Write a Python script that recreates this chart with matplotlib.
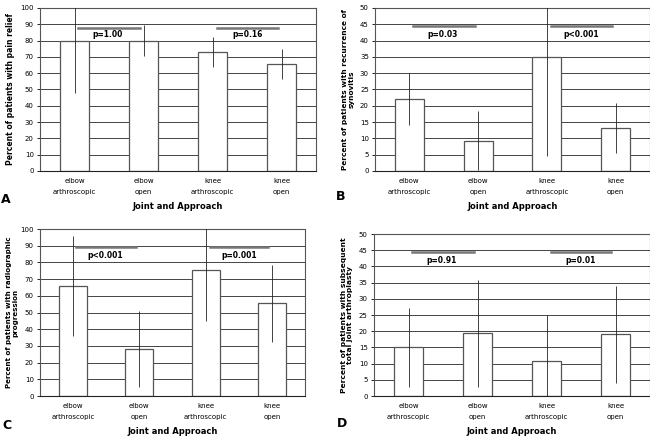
import matplotlib.pyplot as plt

categories = ["elbow\narthroscopic", "elbow\nopen", "knee\narthroscopic", "knee\nopen"]

pain_vals = [79.5, 80, 73, 65.5]
pain_err = [31.5, 9.5, 9, 9.2]
syn_vals = [22, 9.3, 35, 13.3]
syn_err = [8, 9, 30.5, 7.7]
rad_vals = [66, 28, 75.5, 55.5]
rad_err = [30, 22.7, 30.5, 23]
tja_vals = [15, 19.3, 10.7, 19]
tja_err = [12.2, 16.6, 14.3, 15]

ylabels = [
    "Percent of patients with pain relief",
    "Percent of patients with recurrence of\nsynovitis",
    "Percent of patients with radiographic\nprogression",
    "Percent of patients with subsequent\ntotal joint arthroplasty",
]
p_texts = [("p=1.00", "p=0.16"), ("p=0.03", "p<0.001"),
           ("p<0.001", "p=0.001"), ("p=0.91", "p=0.01")]
p_line_y = [88, 44.5, 89, 44.4]
p_text_y = [84, 41.8, 84, 41.8]
ymax = [100, 50, 100, 50]
ystep = [10, 5, 10, 5]
letters = ["A", "B", "C", "D"]

# axes rects in figure fractions
rects = [
    [0.0615, 0.6087, 0.425, 0.373],
    [0.577, 0.6087, 0.423, 0.373],
    [0.0615, 0.0938, 0.4077, 0.382],
    [0.5754, 0.0938, 0.4246, 0.3707],
]
letter_pos = [(0.002, 0.529), (0.517, 0.535), (0.004, 0.012), (0.519, 0.016)]
ylabel_size = [5.5, 5.3, 5.1, 5.4]
ylabel_pad = [4, 4, 1.5, 4]

values = [pain_vals, syn_vals, rad_vals, tja_vals]
errors = [pain_err, syn_err, rad_err, tja_err]

fig = plt.figure(figsize=(6.5, 4.37), dpi=100)

for i in range(4):
    ax = fig.add_axes(rects[i])
    x = list(range(len(categories)))
    ax.set_axisbelow(True)
    ax.yaxis.grid(True, color="#444444", linewidth=0.7)
    ax.bar(x, values[i], width=0.42, color="white", edgecolor="#555555",
           linewidth=0.9, zorder=2)
    ax.errorbar(x, values[i], yerr=errors[i], fmt="none", ecolor="#222222",
                elinewidth=0.6, capsize=0, zorder=3)
    ax.set_xlim(-0.5, 3.5)
    ax.set_ylim(0, ymax[i])
    ax.set_yticks(range(0, ymax[i] + 1, ystep[i]))
    ax.set_xticks(x)
    ax.set_xticklabels(categories, fontsize=5, linespacing=2.1)
    ax.tick_params(axis="x", length=0, pad=5)
    ax.tick_params(axis="y", labelsize=5, length=2.5, width=0.6, pad=2)
    for s in ax.spines.values():
        s.set_color("#555555")
        s.set_linewidth(0.8)
    ax.spines["bottom"].set_color("#222222")

    # p-value bars
    ax.plot([0.05, 0.95], [p_line_y[i]] * 2, color="#777777", linewidth=1.8, zorder=4)
    ax.plot([2.06, 2.94], [p_line_y[i]] * 2, color="#777777", linewidth=1.8, zorder=4)
    ax.text(0.48, p_text_y[i], p_texts[i][0], ha="center", va="center",
            fontsize=5.5, fontweight="bold", zorder=5)
    ax.text(2.5, p_text_y[i], p_texts[i][1], ha="center", va="center",
            fontsize=5.5, fontweight="bold", zorder=5)

    ax.set_xlabel("Joint and Approach", fontsize=6, fontweight="bold", labelpad=5)
    ax.set_ylabel(ylabels[i], fontsize=ylabel_size[i], fontweight="bold",
                  labelpad=ylabel_pad[i], linespacing=1.1)

    fig.text(letter_pos[i][0], letter_pos[i][1], letters[i], fontsize=9,
             fontweight="bold", ha="left", va="bottom")

fig.savefig("out.png", dpi=100)
